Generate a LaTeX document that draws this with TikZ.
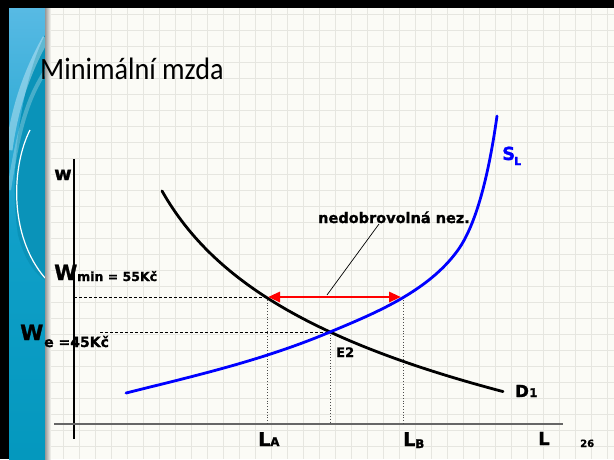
\documentclass[tikz,border=0pt]{standalone}
\usepackage{fontspec}
\setmainfont{DejaVu Sans}[BoldFeatures={FakeBold=1.2}]
\newfontfamily\titlefont{Carlito}[FakeStretch=0.91]
\usetikzlibrary{arrows.meta}
\definecolor{bgc}{HTML}{FBFBF6}
\definecolor{gridc}{HTML}{E6E6E0}
\definecolor{bandtop}{HTML}{58BAE4}
\definecolor{bandmid}{HTML}{109FC8}
\definecolor{bandbot}{HTML}{0498BE}
\definecolor{banddark}{HTML}{0A93B9}
\definecolor{slblue}{HTML}{0000FF}
\begin{document}
\begin{tikzpicture}[x=1pt,y=-1pt,
  lab/.style={inner sep=0pt, anchor=base west, font=\bfseries},
  curve/.style={line width=2.8pt, line join=round, line cap=round},
  guide/.style={densely dashed, line width=0.7pt, black},
  dropline/.style={dotted, line width=0.8pt, black!70}]
\useasboundingbox (0,0) rectangle (614,459);
% background and grid
\fill[bgc] (0,0) rectangle (614,459);
\foreach \gx in {15.3,31.3,...,614} \draw[gridc, line width=0.8pt] (\gx,8) -- (\gx,459);
\foreach \gy in {14,30,...,459} \draw[gridc, line width=0.8pt] (45,\gy) -- (614,\gy);
% left band
\shade[top color=bandtop, bottom color=bandbot, middle color=bandmid] (9,8) rectangle (45,459);
\fill[banddark] (45,35) .. controls (22,80) and (8,170) .. (18,235) .. controls (25,262) and (36,274) .. (45,280) -- cycle;
\draw[white, opacity=0.35, line width=7pt] (46,38) .. controls (28,70) and (15,105) .. (9,150);
\draw[white, opacity=0.25, line width=4pt] (46,70) .. controls (30,95) and (20,120) .. (9,190);
\draw[white, line width=1.2pt] (30,130) .. controls (12,165) and (8,235) .. (45,278);
\shade[left color=black!40, right color=bgc] (45,8) rectangle (51,459);
% borders
\fill[black] (0,0) rectangle (614,8);
\fill[black] (0,0) rectangle (9,459);
% title
\node[inner sep=0pt, anchor=base west, font=\titlefont\fontsize{31}{36}\selectfont] (title) at (40,79) {Minimální mzda};
% axes
\coordinate (ytop) at (74,159);
\coordinate (ybot) at (74,439);
\coordinate (xl) at (54,424);
\coordinate (xr) at (563,424);
\draw[black, line width=1.2pt] (ytop) -- (ybot);
\draw[black!60, line width=1.4pt] (xl) -- (xr);
% key points
\coordinate (A) at (267,297);
\coordinate (E) at (330,332);
\coordinate (B) at (403,297);
\coordinate (yA) at (74,297);
\coordinate (yE) at (100,332);
\coordinate (Af) at (267,424);
\coordinate (Ef) at (330,424);
\coordinate (Bf) at (403,424);
% guide lines
\draw[guide] (yA) -- (A);
\draw[guide] (yE) -- (E);
\draw[dropline] (A) -- (Af);
\draw[dropline] (E) -- (Ef);
\draw[dropline] (B) -- (Bf);
% demand curve D1
\draw[curve, black] plot[domain=162:503, samples=80, smooth] (\x, {-241.4 + 105.6*ln(\x-102)});
% supply curve S_L
\coordinate (S0) at (126,393);
\coordinate (S2) at (458,250);
\coordinate (S3) at (497,116);
\draw[curve, slblue] (S0) .. controls (194,376) and (262,360.6) .. (E)
  .. controls (373,314) and (428,292) .. (S2)
  .. controls (476,224.8) and (488.6,176) .. (S3);
% red arrow
\coordinate (arl) at (268,297);
\coordinate (arr) at (401,297);
\draw[red, line width=2.8pt, {Triangle[length=12pt,width=10pt]}-{Triangle[length=12pt,width=10pt]}] (arl) -- (arr);
% leader
\coordinate (lead1) at (327,295);
\coordinate (lead2) at (379,224);
\draw[black, line width=0.7pt] (lead1) -- (lead2);
% labels
\node[lab, font=\bfseries\fontsize{19}{22}\selectfont] (w) at (54,180) {w};
\node[lab, font=\bfseries\fontsize{21}{24}\selectfont] (Wmin) at (54,280) {W};
\node[lab, font=\bfseries\fontsize{12.5}{15}\selectfont] (Wminlab) at (77,281) {min = 55Kč};
\node[lab, font=\bfseries\fontsize{21}{24}\selectfont] (We) at (20,340) {W};
\node[lab, font=\bfseries\fontsize{14}{17}\selectfont] (Welab) at (44,347) {e =45Kč};
\node[lab, font=\bfseries\fontsize{14.5}{17}\selectfont] (nez) at (318,223) {nedobrovolná nez.};
\node[lab, font=\bfseries\fontsize{13}{16}\selectfont] (E2) at (336,357) {E2};
\node[lab, text=slblue, font=\bfseries\fontsize{18}{21}\selectfont] (S) at (502,160) {S};
\node[lab, text=slblue, font=\bfseries\fontsize{11}{13}\selectfont] (Ssub) at (514,165) {L};
\node[lab, font=\bfseries\fontsize{16.5}{19}\selectfont] (D) at (515,397) {D};
\node[lab, font=\bfseries\fontsize{12}{14}\selectfont] (Dsub) at (529,397) {1};
\node[lab, font=\bfseries\fontsize{18}{21}\selectfont] (Lax) at (538,445) {L};
\node[lab, font=\bfseries\fontsize{19}{22}\selectfont] (LA) at (258,446) {L};
\node[lab, font=\bfseries\fontsize{12}{14}\selectfont] (LAsub) at (270,446) {A};
\node[lab, font=\bfseries\fontsize{19}{22}\selectfont] (LB) at (403,446) {L};
\node[lab, font=\bfseries\fontsize{12}{14}\selectfont] (LBsub) at (415,448) {B};
\node[lab, font=\bfseries\fontsize{10}{12}\selectfont] (pg) at (580,447) {26};
\end{tikzpicture}
\end{document}
